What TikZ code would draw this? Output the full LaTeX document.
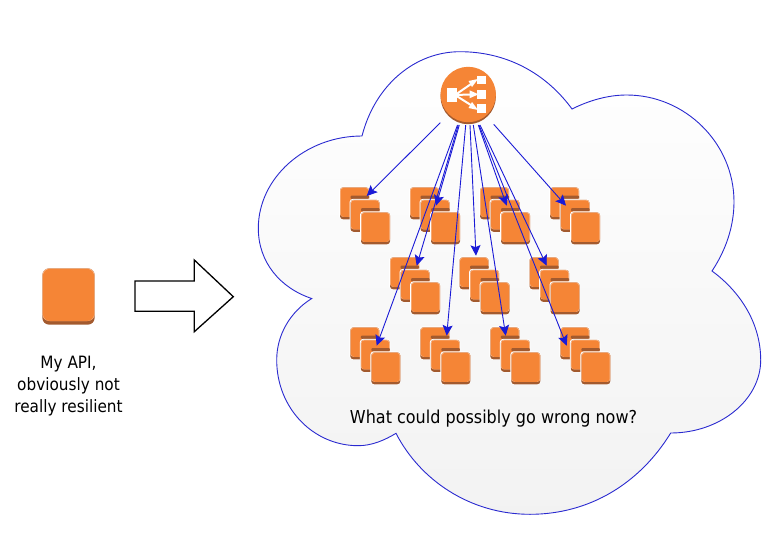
\documentclass[tikz,border=0pt]{standalone}
\usepackage{fontspec}
\setmainfont[FakeStretch=0.9]{DejaVu Sans}
\usetikzlibrary{arrows.meta,shadings}
\definecolor{awsorange}{HTML}{F58536}
\definecolor{awsdark}{HTML}{A35A2E}
\definecolor{awsedge}{HTML}{F9BE94}
\definecolor{linkblue}{HTML}{1A1AD6}
\definecolor{cloudline}{HTML}{2A2AD0}
\tikzset{
  x=1pt,y=-1pt,
  unitbox/.pic={
    \fill[white,rounded corners=3.5] (-1,-1) rectangle (29.6,32.6);
    \fill[awsdark,rounded corners=3] (0,0) rectangle (29,32);
    \fill[awsedge,rounded corners=3] (0,0) rectangle (29,29.5);
    \fill[awsorange,rounded corners=3] (0.6,0.6) rectangle (28.4,29.5);
  },
  link/.style={draw=linkblue,line width=0.9pt,-{Stealth[length=10.5pt,width=10pt,inset=2pt]}},
  label/.style={anchor=base,font=\fontsize{17.8}{20}\selectfont,text=black,inner sep=0pt},
  sidelabel/.style={label,font=\fontsize{17}{20}\selectfont},
  lbicon/.style={fill=white,draw=none},
  cubestack/.pic={
    \pic at (0,0) {unitbox};
    \fill[awsdark,rounded corners=1] (10.5,8.2) rectangle (29,11.5);
    \pic at (10.5,12.5) {unitbox};
    \fill[awsdark,rounded corners=1] (21,20.7) rectangle (39.5,24);
    \pic at (21,25) {unitbox};
  }
}
\begin{document}
\begin{tikzpicture}
\useasboundingbox (0,0) rectangle (784,546);
% cloud
\shade[top color=white,bottom color=black!5,draw=cloudline,line width=0.9pt,line join=miter]
 (362,136) .. controls (375,85) and (415,51.7) .. (460,51.7)
 .. controls (505,51.7) and (545,72) .. (572,109)
 .. controls (588,101) and (607,95) .. (626.7,95)
 .. controls (685,95) and (734,143) .. (734,201.7)
 .. controls (734,226) and (726,250) .. (712,271)
 .. controls (742,293) and (760.7,325) .. (760.7,360)
 .. controls (760.7,400) and (720,433) .. (670.7,433)
 .. controls (640,483) and (590,514.3) .. (530,514.3)
 .. controls (470,514.3) and (420,480) .. (396,433.3)
 .. controls (385,440) and (372,445.7) .. (358.3,445.7)
 .. controls (313,445.7) and (276.7,408) .. (276.7,360)
 .. controls (276.7,335) and (290,312) .. (311.7,298.5)
 .. controls (280,288) and (258.3,262) .. (258.3,228.3)
 .. controls (258.3,178) and (305,136) .. (362,136) -- cycle;
% API icon
\fill[awsdark,rounded corners=7] (42.3,268.3) rectangle (94.7,324.7);
\fill[awsedge,rounded corners=7] (42.3,268.3) rectangle (94.7,321);
\fill[awsorange,rounded corners=7] (42.9,268.9) rectangle (94.1,321);
\node[sidelabel] (api1) at (68.5,368) {My API,};
\node[sidelabel] (api2) at (68.5,390.5) {obviously not};
\node[sidelabel] (api3) at (68.5,412.7) {really resilient};
% block arrow
\draw[black,fill=white,line width=1.3pt,line join=miter]
 (135,281) -- (194.3,281) -- (194.3,260) -- (233.3,296.7) -- (194.3,331.7) -- (194.3,311.3) -- (135,311.3) -- cycle;
% stacks
\foreach \sx in {340,410,480,550} \pic at (\sx,187.3) {cubestack};
\foreach \sx in {390,459.5,529.5} \pic at (\sx,257.3) {cubestack};
\foreach \sx in {350.3,420.3,490.3,560.3} \pic at (\sx,327.3) {cubestack};
% load balancer
\fill[awsdark] (468.2,96.5) circle (27.7);
\fill[awsorange] (468.2,94.5) circle (27.7);
\fill[lbicon] (447.3,87.5) rectangle (456.9,102.3);
\fill[lbicon] (477.3,75.7) rectangle (485.9,84.2);
\fill[lbicon] (477.3,90) rectangle (485.9,98.5);
\fill[lbicon] (477.3,104.2) rectangle (485.9,112.6);
\draw[white,line width=2pt] (455,95) -- (474,82) (455,95) -- (476,94.3) (455,95) -- (474,107);
\fill[white] (478,79) -- (468.5,81) -- (472,87) -- cycle;
\fill[white] (478.5,94.3) -- (469.5,90.3) -- (469.5,98.3) -- cycle;
\fill[white] (478,110) -- (468.5,108) -- (472,102) -- cycle;
% connector ends
\coordinate (s1) at (440.3,122.7);  \coordinate (t1) at (366.7,196);
\coordinate (s2) at (459.3,125);    \coordinate (t2) at (436,205.7);
\coordinate (s3) at (478.3,125);    \coordinate (t3) at (506.7,205.7);
\coordinate (s4) at (493.7,124.3);  \coordinate (t4) at (566,205.7);
\coordinate (s5) at (458.3,125);    \coordinate (t5) at (416.7,265.7);
\coordinate (s6) at (470,125);      \coordinate (t6) at (476,255.7);
\coordinate (s7) at (480,125);      \coordinate (t7) at (546.7,265.7);
\coordinate (s8) at (457.5,125);    \coordinate (t8) at (376.7,345.7);
\coordinate (s9) at (465.7,125);    \coordinate (t9) at (446.7,335.7);
\coordinate (s10) at (473.3,125);   \coordinate (t10) at (505.7,335.7);
\coordinate (s11) at (479,125);     \coordinate (t11) at (566.7,345.7);
\foreach \i in {1,...,11} \draw[link] (s\i) -- (t\i);
\node[label] (question) at (493.5,423.3) {What could possibly go wrong now?};
\end{tikzpicture}
\end{document}
